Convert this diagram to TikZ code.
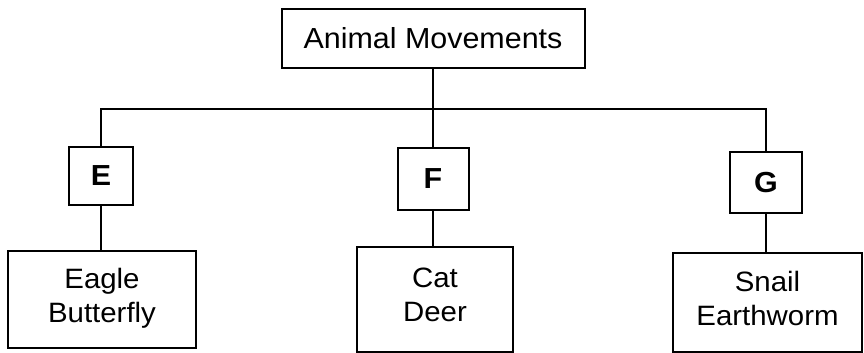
\documentclass[tikz,border=0pt]{standalone}
\usepackage{fontspec}
\setmainfont{Liberation Sans}[FakeStretch=1.05]
\usetikzlibrary{positioning}

\begin{document}
\begin{tikzpicture}[x=0.5pt,y=-0.5pt,line width=1pt,
  box/.style={draw,line width=1pt,inner sep=0pt,align=center,font=\fontsize{14}{17}\selectfont},
  letter/.style={box,font=\fontsize{14.5}{17}\selectfont\bfseries},
  group/.style={box,text depth=4.5pt}]
\useasboundingbox (0,0) rectangle (864,353);
              \node[box,minimum width=151.5pt,minimum height=29.5pt,font=\fontsize{14.5}{17}\selectfont] (root) at (433,38.5) {Animal Movements};
              \coordinate (bus) at (433,109);

              \node[letter,minimum width=32pt,minimum height=29pt] (e) at (101,176) {E};
              \node[letter,minimum width=35.5pt,minimum height=31pt] (f) at (433,179) {F};
              \node[letter,minimum width=36pt,minimum height=30.5pt] (g) at (766,182.5) {G};

              \node[group,minimum width=94pt,minimum height=48.5pt] (e1) at (102,299.5) {Eagle\\Butterfly};
              \node[group,minimum width=78pt,minimum height=52.5pt] (f1) at (435,299.5) {Cat\\Deer};
              \node[group,minimum width=94.5pt,minimum height=49.5pt] (g1) at (767.5,302.5) {Snail\\Earthworm};

              \draw (root) -- (f);
              \draw (e.north) |- (bus) -| (g.north);
              \draw (e.south) -- (e.south |- e1.north);
              \draw (f.south) -- (f.south |- f1.north);
              \draw (g.south) -- (g.south |- g1.north);
\end{tikzpicture}
\end{document}
